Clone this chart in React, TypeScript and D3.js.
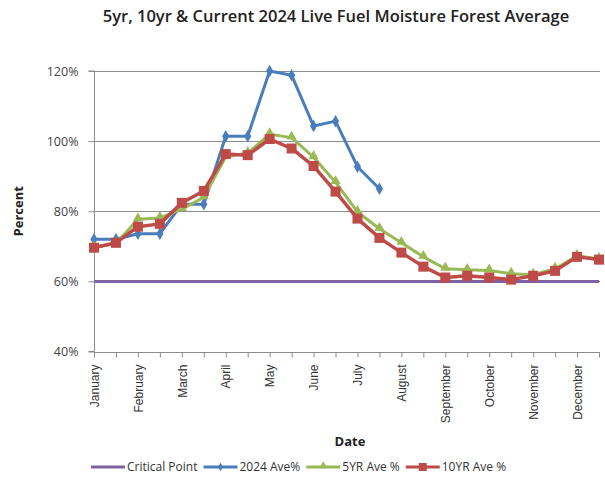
import React, { useRef, useEffect } from "react";
import * as d3 from "d3";

const months = [
  "January", "", "February", "", "March", "", "April", "", "May", "", "June", "",
  "July", "", "August", "", "September", "", "October", "", "November", "", "December", "",
];

const yTicks = [40, 60, 80, 100, 120];

const critical = [60, 60, 60, 60, 60, 60, 60, 60, 60, 60, 60, 60, 60, 60, 60, 60, 60, 60, 60, 60, 60, 60, 60, 60];

const current2024 = [72, 72, 73.6, 73.6, 82, 82, 101.4, 101.4, 120, 118.8, 104.3, 105.7, 92.7, 86.4];

const fiveYr = [
  69.8, 70.8, 77.7, 78.1, 80.6, 84, 95.5, 96.6, 102, 101, 95.4, 88.3,
  79.8, 75, 71, 67, 63.6, 63.3, 63.1, 62.2, 61.9, 63.6, 67.3, 66.4,
];

const tenYr = [
  69.6, 71, 75.6, 76.4, 82.4, 85.8, 96.3, 96, 100.6, 97.9, 92.9, 85.6,
  77.9, 72.4, 68.2, 64.2, 61.1, 61.6, 61.1, 60.5, 61.6, 63, 67, 66.2,
];

const seriesNames = ["Critical Point", "2024 Ave%", "5YR Ave %", "10YR Ave %"];

const App = () => {
  const svgRef = useRef<SVGSVGElement>(null);

  useEffect(() => {
    const svg = d3.select(svgRef.current);
    svg.selectAll("*").remove();

    const width = 605;
    const height = 480;
    const margin = { top: 71, right: 5, bottom: 128, left: 94 };
    const font = "Open Sans, sans-serif";

    const x = d3
      .scalePoint<number>()
      .domain(d3.range(months.length))
      .range([margin.left, width - margin.right - 1]);

    const y = d3
      .scaleLinear()
      .domain([40, 120])
      .range([height - margin.bottom - 0.5, margin.top]);

    const colors = {
      critical: "#7f62a1",
      cur: "#4a7ebb",
      five: "#98b954",
      ten: "#be4b48",
    };

    // title
    svg
      .append("text")
      .attr("x", 336)
      .attr("y", 22)
      .attr("text-anchor", "middle")
      .attr("font-family", font)
      .attr("font-size", 16.5)
      .attr("font-weight", 600)
      .attr("fill", "#222")
      .text("5yr, 10yr & Current 2024 Live Fuel Moisture Forest Average");

    // gridlines
    svg
      .append("g")
      .selectAll("line")
      .data(yTicks.slice(1))
      .join("line")
      .attr("x1", margin.left)
      .attr("x2", width - margin.right)
      .attr("y1", (d) => Math.round(y(d)) + 0.5)
      .attr("y2", (d) => Math.round(y(d)) + 0.5)
      .attr("stroke", "#8c8c8c")
      .attr("stroke-width", 1);

    // y axis
    const yAxis = svg
      .append("g")
      .attr("transform", `translate(${margin.left + 0.5},0)`)
      .call(
        d3
          .axisLeft(y)
          .tickValues(yTicks)
          .tickSize(6)
          .tickPadding(10)
          .tickFormat((d) => `${d}%`)
      );
    yAxis.select(".domain").attr("stroke", "#8c8c8c").attr("d", `M-6,${y(40)}H0V${y(120)}H-6`);
    yAxis.selectAll(".tick line").attr("stroke", "#8c8c8c");
    yAxis
      .selectAll(".tick text")
      .attr("font-family", font)
      .attr("font-size", 12.5)
      .attr("fill", "#444");

    // x axis
    const xAxis = svg
      .append("g")
      .attr("transform", `translate(0,${Math.round(y(40)) + 0.5})`)
      .call(d3.axisBottom(x).tickSize(5).tickFormat((i) => months[i]));
    xAxis.select(".domain").attr("stroke", "#8c8c8c").attr("d", `M${margin.left},0H${width - margin.right}`);
    xAxis.selectAll(".tick line").attr("stroke", "#8c8c8c");
    xAxis
      .selectAll(".tick text")
      .attr("font-family", "Liberation Sans, Arial, sans-serif")
      .attr("font-size", 12)
      .attr("fill", "#333")
      .attr("text-anchor", "end")
      .attr("transform", "rotate(-90)")
      .attr("x", -12)
      .attr("y", 0)
      .attr("dy", "0.35em");

    // axis titles
    svg
      .append("text")
      .attr("transform", `translate(23,${(y(40) + y(120)) / 2}) rotate(-90)`)
      .attr("text-anchor", "middle")
      .attr("font-family", font)
      .attr("font-size", 13)
      .attr("font-weight", 700)
      .attr("fill", "#222")
      .text("Percent");

    svg
      .append("text")
      .attr("x", 350)
      .attr("y", 446)
      .attr("text-anchor", "middle")
      .attr("font-family", font)
      .attr("font-size", 13)
      .attr("font-weight", 700)
      .attr("fill", "#222")
      .text("Date");

    const line = d3
      .line<number>()
      .x((d, i) => x(i) as number)
      .y((d) => y(d));

    const plot = svg.append("g");

    const diamond = d3.symbol().type(d3.symbolDiamond).size(45);
    const triangle = d3.symbol().type(d3.symbolTriangle).size(45);

    // critical point
    plot
      .append("path")
      .datum(critical)
      .attr("fill", "none")
      .attr("stroke", colors.critical)
      .attr("stroke-width", 3)
      .attr("d", line);

    // 2024
    plot
      .append("path")
      .datum(current2024)
      .attr("fill", "none")
      .attr("stroke", colors.cur)
      .attr("stroke-width", 3)
      .attr("stroke-linejoin", "round")
      .attr("d", line);
    plot
      .append("g")
      .selectAll("path")
      .data(current2024)
      .join("path")
      .attr("transform", (d, i) => `translate(${x(i)},${y(d)})`)
      .attr("d", diamond)
      .attr("fill", colors.cur);

    // 5yr
    plot
      .append("path")
      .datum(fiveYr)
      .attr("fill", "none")
      .attr("stroke", colors.five)
      .attr("stroke-width", 3)
      .attr("stroke-linejoin", "round")
      .attr("d", line);
    plot
      .append("g")
      .selectAll("path")
      .data(fiveYr)
      .join("path")
      .attr("transform", (d, i) => `translate(${x(i)},${y(d) - 1})`)
      .attr("d", triangle)
      .attr("fill", colors.five);

    // 10yr
    plot
      .append("path")
      .datum(tenYr)
      .attr("fill", "none")
      .attr("stroke", colors.ten)
      .attr("stroke-width", 3.5)
      .attr("stroke-linejoin", "round")
      .attr("d", line);
    plot
      .append("g")
      .selectAll("rect")
      .data(tenYr)
      .join("rect")
      .attr("x", (d, i) => (x(i) as number) - 5)
      .attr("y", (d) => y(d) - 5)
      .attr("width", 10)
      .attr("height", 10)
      .attr("fill", colors.ten);

    // legend, centred under the chart
    const legendColors = [colors.critical, colors.cur, colors.five, colors.ten];
    const legend = svg.append("g");
    let lx = 0;
    const ly = 467;
    seriesNames.forEach((name, i) => {
      const g = legend.append("g");
      g.append("line")
        .attr("x1", lx)
        .attr("x2", lx + 34)
        .attr("y1", ly)
        .attr("y2", ly)
        .attr("stroke", legendColors[i])
        .attr("stroke-width", 3);
      if (i === 1) {
        g.append("path").attr("transform", `translate(${lx + 17},${ly})`).attr("d", d3.symbol().type(d3.symbolDiamond).size(22)).attr("fill", legendColors[i]);
      } else if (i === 2) {
        g.append("path").attr("transform", `translate(${lx + 17},${ly - 1})`).attr("d", d3.symbol().type(d3.symbolTriangle).size(28)).attr("fill", legendColors[i]);
      } else if (i === 3) {
        g.append("rect").attr("x", lx + 13).attr("y", ly - 4).attr("width", 8).attr("height", 8).attr("fill", legendColors[i]);
      }
      const t = g
        .append("text")
        .attr("x", lx + 36)
        .attr("y", ly)
        .attr("dy", "0.35em")
        .attr("font-family", font)
        .attr("font-size", 12)
        .attr("fill", "#333")
        .text(name);
      const w = (t.node() as SVGTextElement).getComputedTextLength();
      lx += 36 + w + (i < seriesNames.length - 1 ? 6 : 0);
    });
    legend.attr("transform", `translate(${Math.round(299 - lx / 2)},0)`);
  }, []);

  return (
    <svg
      ref={svgRef}
      width={605}
      height={480}
      style={{ position: "absolute", left: 0, top: 0, background: "#fff" }}
    />
  );
};

export default App;
